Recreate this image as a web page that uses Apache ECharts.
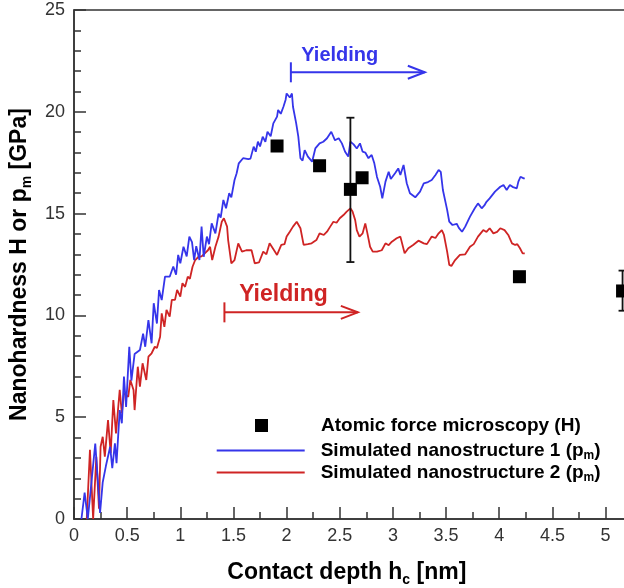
<!DOCTYPE html>
<html><head><meta charset="utf-8">
<script src="https://cdn.jsdelivr.net/npm/echarts@6/dist/echarts.min.js"></script>
<style>html,body{margin:0;padding:0;background:#fff}#c{width:624px;height:588px}</style>
</head><body><div id="c"></div>
<script>
// ---------- data ----------
const seriesNames = ['Atomic force microscopy (H)', 'Simulated nanostructure 1 (p_m)', 'Simulated nanostructure 2 (p_m)'];
const xAxisTitle = 'Contact depth h_c [nm]';
const yAxisTitle = 'Nanohardness H or p_m [GPa]';

const afmX = [1.91, 2.31, 2.60, 2.71, 4.19, 5.16];
const afmY = [18.32, 17.35, 16.19, 16.76, 11.90, 11.20];

const errX = [2.60, 5.16];
const errLow = [12.62, 10.23];
const errHigh = [19.71, 12.20];

const sim1 = [
[0.07,0],[0.10,1.3],[0.13,0],[0.20,3.7],[0.245,0.3],[0.27,1.8],[0.30,2.6],[0.34,3.55],[0.36,2.5],[0.385,3.72],
[0.40,2.74],[0.43,5.35],[0.45,4.7],[0.47,7.0],[0.49,5.5],[0.52,8.46],[0.54,6.8],[0.57,8.1],[0.62,8.3],[0.65,9.1],
[0.67,8.46],[0.70,9.77],[0.73,8.63],[0.75,10.6],[0.78,9.6],[0.80,11.25],[0.825,10.75],[0.856,11.9],[0.90,11.9],[0.934,12.4],
[0.96,12.0],[0.98,12.97],[1.0,12.56],[1.03,13.37],[1.06,12.9],[1.085,13.87],[1.11,13.6],[1.13,12.72],[1.15,13.4],[1.18,12.72],
[1.2,14.36],[1.22,12.88],[1.25,13.87],[1.27,13.5],[1.295,14.52],[1.33,14.03],[1.36,15.0],[1.38,14.8],[1.405,15.67],[1.43,15.26],
[1.46,16.0],[1.48,15.8],[1.51,16.65],[1.53,16.98],[1.55,17.47],[1.59,17.72],[1.64,17.67],[1.66,17.7],[1.69,18.29],[1.71,18.04],
[1.73,18.53],[1.75,18.3],[1.775,18.78],[1.80,18.53],[1.82,19.02],[1.85,18.8],[1.875,19.43],[1.91,19.76],[1.92,20.09],[1.945,19.9],
[1.97,20.25],[1.99,20.58],[2.0,20.9],[2.03,20.7],[2.05,20.9],[2.06,20.25],[2.09,19.43],[2.11,18.78],[2.13,17.72],[2.15,17.6],
[2.17,18.12],[2.2,17.8],[2.24,17.55],[2.27,18.2],[2.31,18.45],[2.345,18.53],[2.38,18.7],[2.42,19.02],[2.455,18.6],[2.49,18.7],
[2.52,18.45],[2.55,18.04],[2.58,17.8],[2.60,18.53],[2.63,18.4],[2.66,18.2],[2.69,18.45],[2.715,18.04],[2.74,18.0],[2.77,17.72],
[2.80,17.88],[2.825,17.47],[2.85,16.8],[2.88,16.32],[2.90,15.75],[2.93,16.57],[2.96,17.06],[2.98,16.7],[3.02,16.98],[3.05,17.22],
[3.07,16.9],[3.10,17.39],[3.13,16.49],[3.16,16.0],[3.21,15.8],[3.255,16.08],[3.29,16.49],[3.33,16.55],[3.365,16.65],[3.40,16.9],
[3.43,17.14],[3.45,17.05],[3.47,16.16],[3.51,15.18],[3.53,14.6],[3.56,14.44],[3.60,14.5],[3.62,14.3],[3.65,14.11],[3.68,14.36],
[3.725,14.85],[3.77,15.26],[3.80,15.5],[3.835,15.26],[3.86,15.4],[3.88,15.58],[3.91,15.75],[3.96,16.08],[4.01,16.32],[4.04,16.4],
[4.07,16.16],[4.10,16.4],[4.13,16.3],[4.165,16.24],[4.18,16.57],[4.20,16.81],[4.23,16.73],[4.24,16.73]
];

const sim2 = [
[0.12,0],[0.15,3.4],[0.18,0],[0.21,3.06],[0.235,0.5],[0.25,3.55],[0.27,4.04],[0.29,3.06],[0.32,4.86],[0.345,3.23],
[0.37,5.84],[0.395,4.2],[0.43,6.34],[0.45,5.19],[0.47,6.17],[0.49,6.1],[0.51,6.0],[0.53,6.83],[0.56,6.34],[0.57,5.35],
[0.60,7.48],[0.62,6.5],[0.645,7.65],[0.68,6.83],[0.70,7.97],[0.73,8.14],[0.76,8.46],[0.78,8.4],[0.81,8.95],[0.825,10.1],
[0.85,9.44],[0.87,10.27],[0.90,9.94],[0.92,10.76],[0.95,10.76],[0.97,11.25],[1.0,10.92],[1.02,11.58],[1.045,11.4],[1.07,11.9],
[1.09,11.8],[1.115,12.39],[1.14,12.72],[1.17,12.88],[1.20,12.9],[1.23,13.05],[1.26,13.2],[1.28,13.37],[1.30,12.72],[1.33,13.37],
[1.36,13.87],[1.39,14.6],[1.41,14.77],[1.44,14.36],[1.45,13.7],[1.48,12.56],[1.51,12.72],[1.545,13.54],[1.58,13.13],[1.62,13.2],
[1.67,13.2],[1.70,12.56],[1.74,12.6],[1.78,13.13],[1.81,13.0],[1.84,13.54],[1.87,13.3],[1.91,12.97],[1.95,13.46],[1.98,13.5],
[2.0,13.87],[2.03,14.11],[2.06,14.36],[2.095,14.6],[2.11,14.68],[2.13,14.28],[2.16,13.46],[2.20,13.5],[2.235,13.54],[2.28,13.7],
[2.31,14.03],[2.35,13.95],[2.38,14.11],[2.41,14.36],[2.44,14.6],[2.47,14.55],[2.50,14.77],[2.535,14.93],[2.565,15.1],[2.60,15.26],
[2.62,15.1],[2.645,14.68],[2.66,14.19],[2.685,13.87],[2.715,14.03],[2.74,14.52],[2.76,14.03],[2.785,13.37],[2.81,13.13],[2.85,13.13],
[2.895,13.2],[2.93,13.54],[2.96,13.45],[2.99,13.62],[3.035,13.79],[3.07,13.87],[3.11,13.05],[3.145,13.3],[3.19,13.46],[3.24,13.67],
[3.29,13.54],[3.32,13.5],[3.365,13.87],[3.40,13.8],[3.43,14.03],[3.46,14.19],[3.48,13.95],[3.51,13.13],[3.53,12.48],[3.55,12.43],
[3.585,12.72],[3.63,12.97],[3.68,13.0],[3.725,13.37],[3.76,13.5],[3.80,13.87],[3.85,14.19],[3.88,14.1],[3.91,14.28],[3.945,14.03],
[3.98,14.1],[4.01,14.28],[4.05,14.19],[4.085,13.95],[4.12,13.54],[4.15,13.46],[4.17,13.5],[4.195,13.3],[4.22,13.05],[4.24,13.05]
];

// "Yielding" annotations (data coordinates)
const yieldText = ['Yielding', 'Yielding'];
const yieldFrom = [2.04, 1.415];
const yieldTo = [3.30, 2.67];
const yieldLevel = [21.94, 10.15];
const yieldLabelX = [2.50, 1.97];
const yieldLabelY = [22.79, 11.0];

// ---------- styles ----------
const FONT = '"Liberation Sans", Arial, Helvetica, sans-serif';
const BLUE = '#3535ea';
const RED = '#cf2424';
const arrowColors = [BLUE, RED];
const arrowFont = ['bold 20px ' + FONT, 'bold 23px ' + FONT];

function richify(s) {
  const m = s.match(/^(.*)_(.)(.*)$/);
  return m ? '{t|' + m[1] + '}{s|' + m[2] + '}{t|' + m[3] + '}' : '{t|' + s + '}';
}

const chart = echarts.init(document.getElementById('c'), null, {renderer: 'canvas'});

const axisRich = {
  t: {fontFamily: FONT, fontWeight: 'bold', fontSize: 23, lineHeight: 29, color: '#000'},
  s: {fontFamily: FONT, fontWeight: 'bold', fontSize: 14, lineHeight: 13, verticalAlign: 'bottom', color: '#000'}
};
function legendRich(pad) {
  return {
    p: {width: pad, height: 10},
    t: {fontFamily: FONT, fontWeight: 'bold', fontSize: 19, lineHeight: 22, color: '#000'},
    s: {fontFamily: FONT, fontWeight: 'bold', fontSize: 12, lineHeight: 8, verticalAlign: 'bottom', color: '#000'}
  };
}

const option = {
  animation: false,
  backgroundColor: '#fff',
  grid: {left: 74, top: 10, bottom: 69, right: -34.7, show: true, borderColor: '#333', borderWidth: 1.5, containLabel: false, outerBoundsMode: 'none'},
  legend: [
    {
      data: [seriesNames[0]], orient: 'vertical', left: 255, top: 416, padding: 0,
      itemWidth: 13, itemHeight: 13, selectedMode: false,
      formatter: n => '{p|}' + richify(n),
      textStyle: {rich: legendRich(48)}
    },
    {
      data: [seriesNames[1], seriesNames[2]], orient: 'vertical', left: 216.7, top: 441, padding: 0,
      icon: 'rect', itemWidth: 88, itemHeight: 2, itemGap: 1.5, selectedMode: false,
      formatter: n => '{p|}' + richify(n),
      textStyle: {rich: legendRich(11)}
    }
  ],
  xAxis: {
    type: 'value', min: 0, max: 5.5, interval: 0.5,
    name: richify(xAxisTitle), nameLocation: 'middle', nameGap: 39,
    nameTextStyle: {rich: axisRich, padding: [0, 39, 0, 0]},
    axisLine: {lineStyle: {color: '#333', width: 1.5}},
    axisTick: {inside: true, length: 12, lineStyle: {color: '#333', width: 1.5}},
    minorTick: {show: true, splitNumber: 2, length: 7, lineStyle: {color: '#333', width: 1.5}},
    axisLabel: {fontFamily: FONT, fontSize: 18, color: '#333', margin: 8},
    splitLine: {show: false}
  },
  yAxis: {
    type: 'value', min: 0, max: 25, interval: 5,
    name: richify(yAxisTitle), nameLocation: 'middle', nameGap: 40,
    nameTextStyle: {rich: axisRich},
    axisLine: {lineStyle: {color: '#333', width: 1.5}},
    axisTick: {inside: true, length: 12, lineStyle: {color: '#333', width: 1.5}},
    minorTick: {show: true, splitNumber: 5, length: 7, lineStyle: {color: '#333', width: 1.5}},
    axisLabel: {fontFamily: FONT, fontSize: 18, color: '#333', margin: 9},
    splitLine: {show: false}
  },
  series: [
    {
      name: seriesNames[2], type: 'line', data: sim2, symbol: 'none', showSymbol: false,
      lineStyle: {color: RED, width: 1.8}, itemStyle: {color: RED}, z: 3
    },
    {
      name: seriesNames[1], type: 'line', data: sim1, symbol: 'none', showSymbol: false,
      lineStyle: {color: BLUE, width: 1.8}, itemStyle: {color: BLUE}, z: 4
    },
    {
      type: 'custom', name: 'errorbars', silent: true, z: 5,
      data: errX.map((x, i) => [x, errLow[i], errHigh[i]]),
      encode: {x: 0, y: [1, 2]},
      renderItem: (params, api) => {
        const lo = api.coord([api.value(0), api.value(1)]);
        const hi = api.coord([api.value(0), api.value(2)]);
        const st = {stroke: '#111', lineWidth: 1.8};
        return {type: 'group', children: [
          {type: 'line', shape: {x1: lo[0], y1: lo[1], x2: hi[0], y2: hi[1]}, style: st},
          {type: 'line', shape: {x1: lo[0] - 4, y1: lo[1], x2: lo[0] + 4, y2: lo[1]}, style: st},
          {type: 'line', shape: {x1: hi[0] - 4, y1: hi[1], x2: hi[0] + 4, y2: hi[1]}, style: st}
        ]};
      }
    },
    {
      name: seriesNames[0], type: 'scatter', symbol: 'rect', symbolSize: 13, z: 6,
      data: afmX.map((x, i) => [x, afmY[i]]),
      itemStyle: {color: '#000', opacity: 1}
    },
    {
      type: 'custom', name: 'yielding', silent: true, z: 7,
      data: yieldFrom.map((v, i) => [v, yieldTo[i], yieldLevel[i], yieldLabelX[i], yieldLabelY[i]]),
      encode: {x: [0, 1, 3], y: [2, 4]},
      renderItem: (params, api) => {
        const i = params.dataIndex;
        const p0 = api.coord([api.value(0), api.value(2)]);
        const p1 = api.coord([api.value(1), api.value(2)]);
        const pt = api.coord([api.value(3), api.value(4)]);
        const c = arrowColors[i];
        const st = {stroke: c, lineWidth: 2, fill: null};
        return {type: 'group', children: [
          {type: 'line', shape: {x1: p0[0], y1: p0[1], x2: p1[0], y2: p1[1]}, style: st},
          {type: 'line', shape: {x1: p0[0], y1: p0[1] - 10, x2: p0[0], y2: p0[1] + 10}, style: st},
          {type: 'polyline', shape: {points: [[p1[0] - 17, p1[1] - 6.5], [p1[0], p1[1]], [p1[0] - 17, p1[1] + 6.5]]}, style: st},
          {type: 'text', x: pt[0], y: pt[1], style: {text: yieldText[i], fill: c, font: arrowFont[i], align: 'center', verticalAlign: 'middle'}}
        ]};
      }
    }
  ]
};
chart.setOption(option);
</script>
</body></html>
